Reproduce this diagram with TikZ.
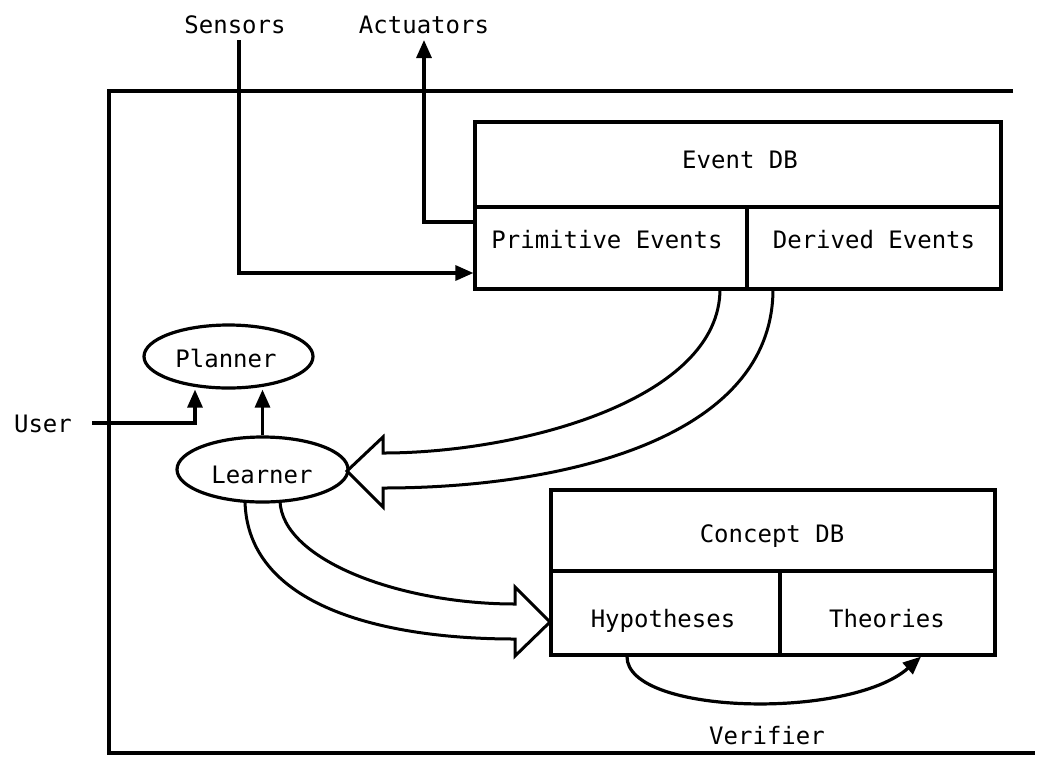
\documentclass[tikz,border=0pt]{standalone}
\usepackage{fontspec}
\setmonofont{DejaVu Sans Mono}
\usetikzlibrary{arrows.meta,shapes.geometric}
\begin{document}
\begin{tikzpicture}[x=1pt,y=-1pt,
  every path/.style={line width=3.2pt},
  txt/.style={font=\ttfamily\fontsize{24}{28}\selectfont, anchor=base, inner sep=0pt},
  cell/.style={draw, line width=3.2pt, inner sep=0pt, anchor=center},
  oval/.style={draw, ellipse, line width=3.2pt, inner sep=0pt},
  arr/.style={line width=3.2pt, -{Triangle[length=18pt,width=15pt]}},
  hollow/.style={line width=3pt, line join=miter}]
\useasboundingbox (0,0) rectangle (1041,756);

% outer frame
\draw (1013,91) -- (109,91) -- (109,753) -- (1035,753);

% Event DB
\node[cell, minimum width=526pt, minimum height=85pt] (edb) at (738,164.5) {};
\node[cell, minimum width=272pt, minimum height=82pt] (prim) at (611,248) {};
\node[cell, minimum width=254pt, minimum height=82pt] (der) at (874,248) {};
\node[txt] (edbt) at (740,168) {Event DB};
\node[txt] (primt) at (607,248) {Primitive Events};
\node[txt] (dert) at (874,248) {Derived Events};

% Concept DB
\node[cell, minimum width=444pt, minimum height=81pt] (cdb) at (773,530.5) {};
\node[cell, minimum width=229pt, minimum height=84pt] (hyp) at (665.5,613) {};
\node[cell, minimum width=215pt, minimum height=84pt] (theo) at (887.5,613) {};
\node[txt] (cdbt) at (772,542) {Concept DB};
\node[txt] (hypt) at (663,627) {Hypotheses};
\node[txt] (theot) at (887,627) {Theories};

% Planner, Learner
\node[oval, minimum width=169pt, minimum height=63pt] (planner) at (228.5,356.5) {};
\node[oval, minimum width=171pt, minimum height=65pt] (learner) at (262.5,469.5) {};
\node[txt] (plant) at (226,367) {Planner};
\node[txt] (learnt) at (262,483) {Learner};

% outside labels
\node[txt] (sensors) at (235,33) {Sensors};
\node[txt] (actuators) at (424,33) {Actuators};
\node[txt] (user) at (43,432) {User};
\node[txt] (verifier) at (767,744) {Verifier};

\coordinate (sens) at (239,40);
\coordinate (act) at (424,40);
\coordinate (userend) at (92,423);

% sensors -> primitive events
\draw[arr] (sens) |- ([yshift=-25pt]prim.west);
% primitive events -> actuators
\draw[arr] ([yshift=26pt]prim.west) -| (act);
% user -> planner
\draw[arr] (userend) -| ([xshift=-33.5pt]planner.south);
% learner -> planner
\draw[arr] (learner.north) -- (learner.north |- planner.south);

% hollow arrow: Event DB -> Learner
\draw[hollow] (720,289) .. controls (720,400) and (520,453) .. (383,453)
  -- (383,437) -- (347,471) -- (383,507) -- (383,488)
  .. controls (560,488) and (773,440) .. (773,289);

% hollow arrow: Learner -> Concept DB
\draw[hollow] (280,501) .. controls (282,560) and (400,604) .. (515,604)
  -- (515,587) -- (550,622) -- (515,656) -- (515,639)
  .. controls (380,639) and (247,605) .. (245,501);

% verifier
\draw[arr] ([xshift=-38.5pt]hyp.south) .. controls (627,715) and (850,720) .. ([xshift=33.5pt]theo.south);
\end{tikzpicture}
\end{document}
